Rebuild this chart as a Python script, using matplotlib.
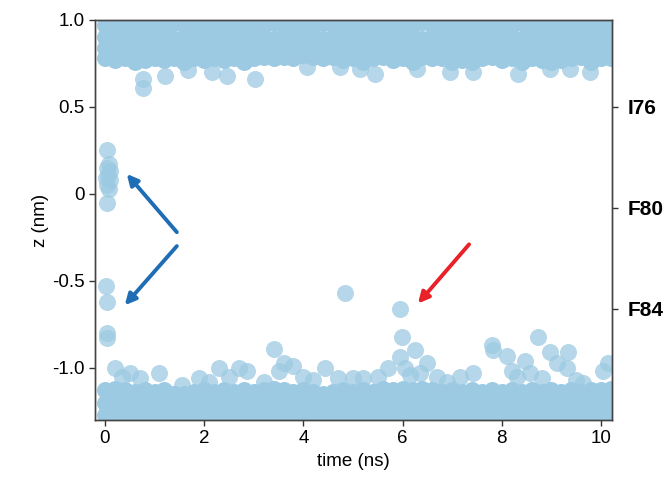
import numpy as np
import matplotlib
matplotlib.use("Agg")
import matplotlib.pyplot as plt

plt.rcParams['font.family'] = ['Liberation Sans', 'DejaVu Sans']

# sampling times of the trajectory (ns)
t_grid = [0.0, 0.2, 0.4, 0.6, 0.8, 1.0, 1.2, 1.4, 1.6, 1.8, 2.0, 2.2, 2.4,
          2.6, 2.8, 3.0, 3.2, 3.4, 3.6, 3.8, 4.0, 4.2, 4.4, 4.6, 4.8, 5.0,
          5.2, 5.4, 5.6, 5.8, 6.0, 6.2, 6.4, 6.6, 6.8, 7.0, 7.2, 7.4, 7.6,
          7.8, 8.0, 8.2, 8.4, 8.6, 8.8, 9.0, 9.2, 9.4, 9.6, 9.8, 10.0, 10.2]

# dense upper population (z, nm)
top_r1 = [0.97, 0.98, 0.96, 0.97, 0.99, 0.97, 0.96, 0.98, 0.97, 0.97, 0.98, 0.96, 0.97,
          0.98, 0.97, 0.96, 0.97, 0.98, 0.97, 0.99, 0.96, 0.97, 0.98, 0.97, 0.96, 0.97,
          0.98, 0.97, 0.97, 0.96, 0.98, 0.97, 0.99, 0.97, 0.96, 0.97, 0.98, 0.97, 0.96,
          0.98, 0.97, 0.97, 0.98, 0.96, 0.97, 0.98, 0.97, 0.96, 0.97, 0.98, 0.97, 0.97]
top_r2 = [0.90, 0.91, 0.89, 0.90, 0.90, 0.91, 0.90, 0.89, 0.90, 0.91, 0.90, 0.90, 0.89,
          0.90, 0.91, 0.90, 0.90, 0.89, 0.91, 0.90, 0.90, 0.91, 0.89, 0.90, 0.90, 0.91,
          0.90, 0.89, 0.90, 0.91, 0.90, 0.90, 0.89, 0.90, 0.91, 0.90, 0.90, 0.89, 0.90,
          0.91, 0.90, 0.90, 0.89, 0.90, 0.91, 0.90, 0.90, 0.89, 0.90, 0.91, 0.90, 0.90]
top_r3 = [0.84, 0.83, 0.84, 0.83, 0.83, 0.84, 0.83, 0.84, 0.83, 0.83, 0.84, 0.83, 0.84,
          0.83, 0.84, 0.83, 0.83, 0.84, 0.84, 0.83, 0.84, 0.83, 0.84, 0.84, 0.83, 0.84,
          0.83, 0.83, 0.84, 0.83, 0.84, 0.84, 0.83, 0.83, 0.84, 0.83, 0.84, 0.83, 0.83,
          0.84, 0.83, 0.84, 0.83, 0.84, 0.83, 0.84, 0.83, 0.83, 0.84, 0.83, 0.84, 0.84]
top_edge = [0.78, 0.77, 0.78, 0.76, 0.77, 0.78, 0.77, 0.78, 0.76, 0.78, 0.77, 0.78, 0.77,
            0.78, 0.76, 0.78, 0.79, 0.78, 0.79, 0.78, 0.80, 0.79, 0.78, 0.79, 0.77, 0.78,
            0.76, 0.78, 0.79, 0.77, 0.78, 0.76, 0.79, 0.78, 0.78, 0.76, 0.77, 0.76, 0.78,
            0.79, 0.77, 0.78, 0.76, 0.78, 0.77, 0.76, 0.77, 0.78, 0.79, 0.76, 0.78, 0.78]

# excursions below the upper population
top_out_t = [0.77, 0.77, 1.21, 1.67, 2.15, 2.46, 3.02, 4.07, 4.74, 5.14, 5.44, 6.29,
             6.95, 7.42, 8.33, 8.97, 9.38, 9.78]
top_out_z = [0.66, 0.61, 0.68, 0.71, 0.70, 0.68, 0.66, 0.73, 0.73, 0.72, 0.69, 0.72,
             0.70, 0.70, 0.69, 0.72, 0.72, 0.70]

# dense lower population
bot_r1 = [-1.27, -1.28, -1.27, -1.26, -1.27, -1.28, -1.27, -1.27, -1.26, -1.27, -1.28, -1.27, -1.27,
          -1.26, -1.27, -1.28, -1.27, -1.27, -1.26, -1.27, -1.28, -1.27, -1.26, -1.27, -1.27, -1.28,
          -1.27, -1.26, -1.27, -1.28, -1.27, -1.27, -1.26, -1.27, -1.28, -1.27, -1.27, -1.26, -1.27,
          -1.28, -1.27, -1.26, -1.27, -1.27, -1.28, -1.27, -1.26, -1.27, -1.27, -1.28, -1.27, -1.27]
bot_r2 = [-1.20, -1.21, -1.20, -1.19, -1.20, -1.21, -1.20, -1.20, -1.19, -1.20, -1.21, -1.20, -1.20,
          -1.19, -1.20, -1.21, -1.20, -1.20, -1.19, -1.20, -1.21, -1.20, -1.19, -1.20, -1.20, -1.21,
          -1.20, -1.19, -1.20, -1.21, -1.20, -1.20, -1.19, -1.20, -1.21, -1.20, -1.20, -1.19, -1.20,
          -1.21, -1.20, -1.19, -1.20, -1.20, -1.21, -1.20, -1.19, -1.20, -1.20, -1.21, -1.20, -1.20]
bot_edge = [-1.13, -1.12, -1.13, -1.14, -1.13, -1.14, -1.13, -1.15, -1.15, -1.14, -1.13, -1.14, -1.13,
            -1.14, -1.13, -1.14, -1.13, -1.12, -1.13, -1.14, -1.13, -1.14, -1.15, -1.14, -1.13, -1.14,
            -1.13, -1.14, -1.12, -1.13, -1.12, -1.13, -1.12, -1.13, -1.14, -1.13, -1.14, -1.13, -1.14,
            -1.13, -1.14, -1.13, -1.14, -1.13, -1.14, -1.13, -1.14, -1.13, -1.14, -1.13, -1.13, -1.12]

# excursions above the lower population and transient states
bot_out_t = [0.20, 0.35, 0.50, 0.70, 1.10, 1.55, 1.90, 2.10, 2.30, 2.50, 2.70, 2.86,
             3.20, 3.40, 3.50, 3.60, 3.80, 4.00, 4.20, 4.43, 4.70, 5.00, 5.20, 5.50,
             5.70, 5.95, 6.05, 6.15, 6.25, 6.35, 6.50, 6.70, 6.90, 7.16, 7.42, 7.80,
             7.82, 8.10, 8.20, 8.30, 8.47, 8.57, 8.73, 8.80, 8.97, 9.11, 9.31, 9.33,
             9.50, 9.64, 10.04, 10.14]
bot_out_z = [-1.00, -1.05, -1.03, -1.06, -1.03, -1.10, -1.06, -1.08, -1.00, -1.05, -1.00, -1.02,
             -1.08, -0.89, -1.02, -0.97, -0.99, -1.05, -1.07, -1.00, -1.06, -1.06, -1.06, -1.05,
             -1.00, -0.94, -1.00, -1.04, -0.90, -1.03, -0.97, -1.05, -1.08, -1.05, -1.03, -0.87,
             -0.90, -0.93, -1.02, -1.05, -0.96, -1.03, -0.82, -1.06, -0.91, -0.97, -1.00, -0.91,
             -1.07, -1.09, -1.02, -0.97]

mid_t = [0.05, 0.08, 0.05, 0.10, 0.07, 0.03, 0.10, 0.05, 0.08, 0.04,
         0.03, 0.05, 0.05, 0.05, 4.84, 5.95, 5.98]
mid_z = [0.25, 0.17, 0.15, 0.13, 0.11, 0.09, 0.08, 0.05, 0.03, -0.05,
         -0.53, -0.62, -0.80, -0.83, -0.57, -0.66, -0.82]

res_pos = [0.50, -0.08, -0.66]
res_labels = ['I76', 'F80', 'F84']
yticks = [1.0, 0.5, 0.0, -0.5, -1.0]
ytick_labels = ['1.0', '0.5', '0', '-0.5', '-1.0']
xticks = [0, 2, 4, 6, 8, 10]

blue_pt = '#9ccae2'
dense = dict(s=150, color=blue_pt, alpha=1.0, linewidths=0)
dot = dict(s=150, color=blue_pt, alpha=0.75, linewidths=0)

fig = plt.figure(figsize=(6.67, 4.83), dpi=100)
ax = fig.add_axes([0.1424, 0.1304, 0.7751, 0.8282])

# outliers first so the dense bands sit on top of them
ax.scatter(top_out_t, top_out_z, **dot)
ax.scatter(bot_out_t, bot_out_z, **dot)
ax.scatter(mid_t, mid_z, **dot)
for row in [top_r1, top_r2, top_r3, top_edge, bot_r1, bot_r2, bot_edge]:
    ax.scatter(t_grid, row, **dense)

ax.set_xlim(-0.2, 10.22)
ax.set_ylim(-1.3, 1.0)
ax.set_xticks(xticks)
ax.set_yticks(yticks)
ax.set_yticklabels(ytick_labels)
ax.set_xlabel('time (ns)', fontsize=13.5, labelpad=4)
ax.set_ylabel('z (nm)', fontsize=13.5, labelpad=2)
ax.tick_params(labelsize=13.5, length=4, width=1, color='#333333')

for s in ax.spines.values():
    s.set_color('#444444')
    s.set_linewidth(1.0)

ax2 = ax.twinx()
ax2.set_ylim(-1.3, 1.0)
ax2.set_yticks(res_pos)
ax2.set_yticklabels(res_labels, fontweight='bold')
ax2.tick_params(labelsize=15, length=4, width=1, color='#333333', pad=7)
for s in ax2.spines.values():
    s.set_color('#444444')
    s.set_linewidth(1.0)

# arrows
blue = '#1f6db4'
red = '#e82228'
arr = dict(arrowstyle='-|>', lw=2.8, mutation_scale=16, shrinkA=0, shrinkB=0)
ax.annotate('', xy=(0.44, 0.115), xytext=(1.45, -0.22),
            arrowprops=dict(color=blue, **arr))
ax.annotate('', xy=(0.40, -0.64), xytext=(1.45, -0.30),
            arrowprops=dict(color=blue, **arr))
ax.annotate('', xy=(6.31, -0.63), xytext=(7.34, -0.29),
            arrowprops=dict(color=red, **arr))

fig.savefig('out.png', dpi=100)
